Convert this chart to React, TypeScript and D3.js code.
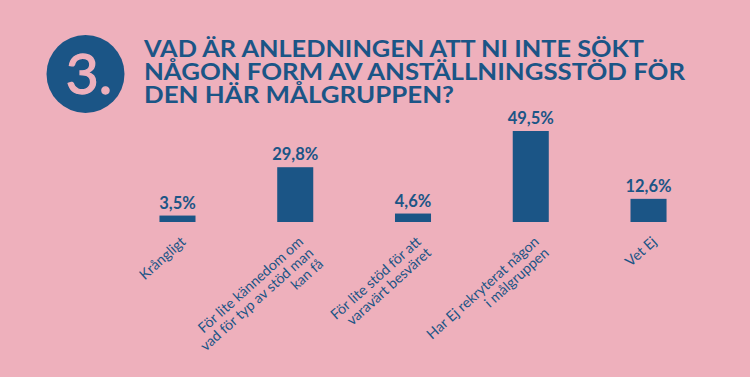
import React from "react";
import * as d3 from "d3";

const categories = [
  "Krångligt",
  "För lite kännedom om\nvad för typ av stöd man\nkan få",
  "För lite stöd för att\nvaravärt besväret",
  "Har Ej rekryterat någon\ni målgruppen",
  "Vet Ej",
];
const values = [3.5, 29.8, 4.6, 49.5, 12.6];
const titleLines = [
  "VAD ÄR ANLEDNINGEN ATT NI INTE SÖKT",
  "NÅGON FORM AV ANSTÄLLNINGSSTÖD FÖR",
  "DEN HÄR MÅLGRUPPEN?",
];
const titleWidths = [500, 541, 310];
const questionNumber = "3.";

const W = 750;
const H = 377;
const BG = "#EEB0BC";
const BLUE = "#1B5586";

export default function App() {
  const x = d3
    .scaleBand<string>()
    .domain(categories)
    .range([118.6, 707.4])
    .paddingInner(0.694)
    .paddingOuter(0.347);
  const y = d3.scaleLinear().domain([0, 49.5]).range([222, 131]);
  const fmt = (v: number) => d3.format(".1f")(v).replace(".", ",") + "%";

  return (
    <svg
      width={W}
      height={H}
      style={{ position: "absolute", left: 0, top: 0, display: "block" }}
    >
      <rect x={0} y={0} width={W} height={H} fill={BG} />
      <circle cx={85.5} cy={74} r={39} fill={BLUE} />
      <text
        x={89}
        y={94}
        textAnchor="middle"
        fill={BG}
        stroke={BG}
        strokeWidth={1.3}
        fontFamily="Lato"
        fontWeight={400}
        fontSize={57}
      >
        {questionNumber}
      </text>
      <text fill={BLUE} fontFamily="Lato" fontWeight={700} fontSize={22.5}>
        {titleLines.map((t, i) => (
          <tspan
            key={i}
            x={144}
            y={57 + i * 22.8}
            textLength={titleWidths[i]}
            lengthAdjust="spacingAndGlyphs"
          >
            {t}
          </tspan>
        ))}
      </text>
      {categories.map((c, i) => {
        const cx = (x(c) ?? 0) + x.bandwidth() / 2;
        return (
          <g key={c}>
            <rect
              x={x(c)}
              y={y(values[i])}
              width={x.bandwidth()}
              height={y(0) - y(values[i])}
              fill={BLUE}
            />
            <text
              x={cx}
              y={y(values[i]) - 7}
              textAnchor="middle"
              fill={BLUE}
              fontFamily="Lato"
              fontWeight={700}
              fontSize={16.5}
            >
              {fmt(values[i])}
            </text>
            <text
              transform={`translate(${cx + 9},${243}) rotate(-42)`}
              textAnchor="end"
              fill={BLUE}
              fontFamily="Lato"
              fontSize={14.2}
            >
              {c.split("\n").map((line, j) => (
                <tspan key={j} x={0} dy={j === 0 ? 0 : 15}>
                  {line}
                </tspan>
              ))}
            </text>
          </g>
        );
      })}
    </svg>
  );
}
